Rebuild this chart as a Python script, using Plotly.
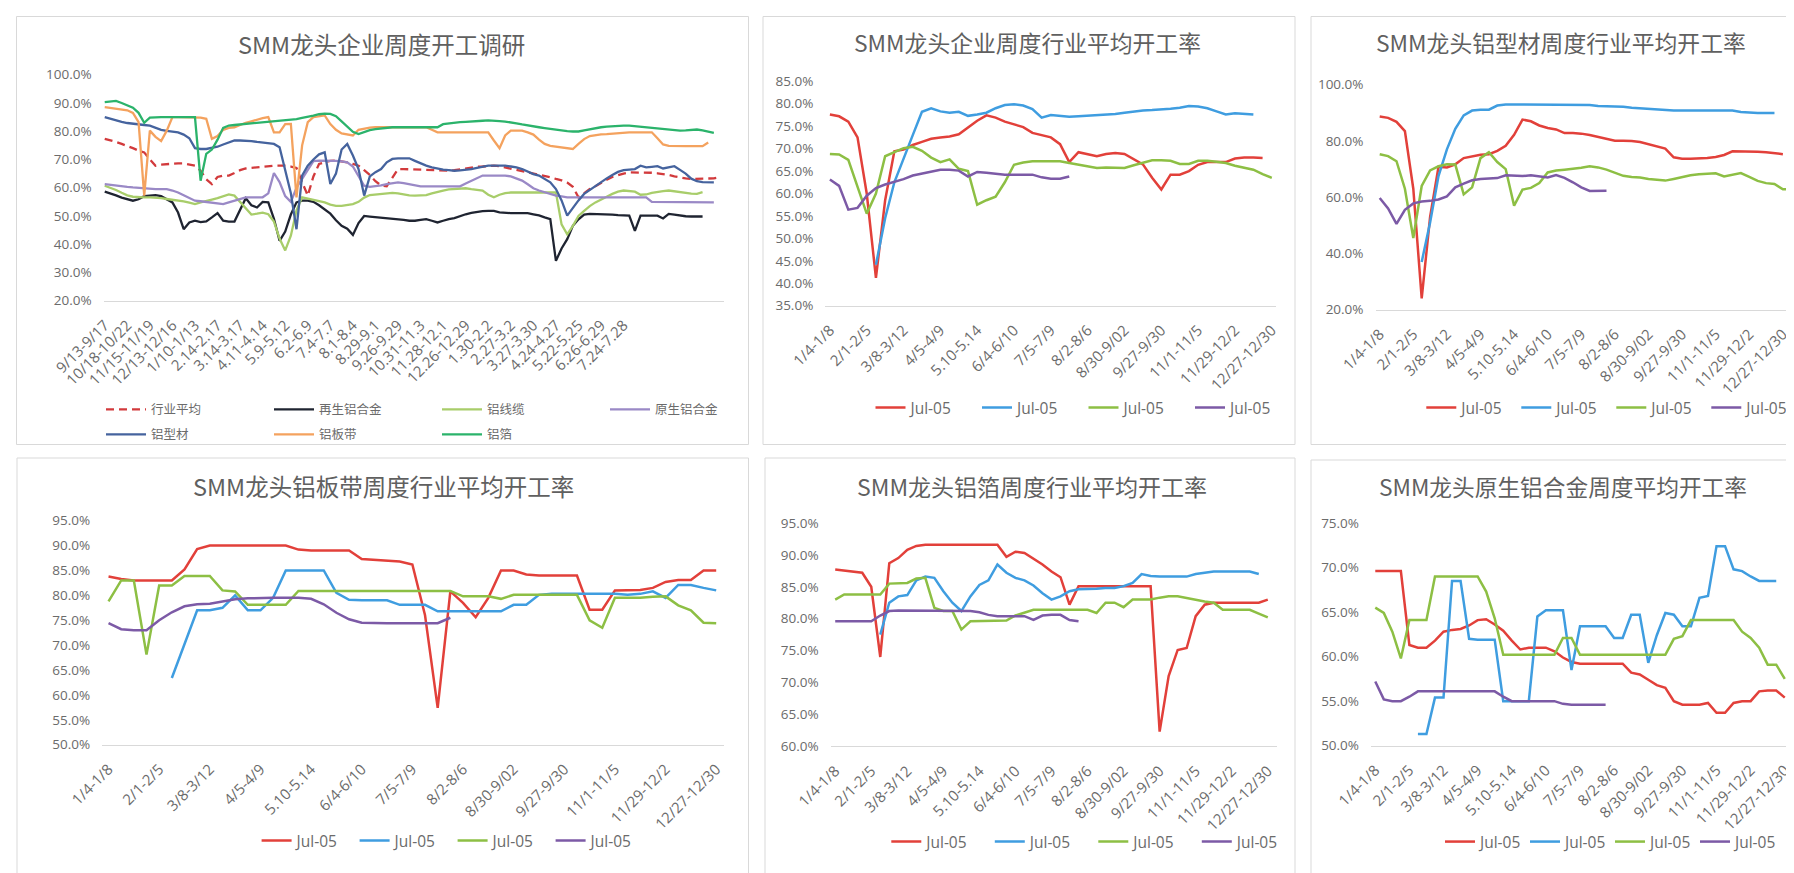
import plotly.graph_objects as go

W, H = 1794, 873
TXT = "#6b6b6b"
FONT = "Open Sans, Noto Sans CJK SC, sans-serif"
CJK = "Noto Sans CJK SC, sans-serif"

# ---------- panel 1 : weekly survey, 7 sectors ----------
week_ticks = ["9/13-9/17", "10/18-10/22", "11/15-11/19", "12/13-12/16", "1/10-1/13",
              "2.14-2.17", "3.14-3.17", "4.11-4.14", "5.9-5.12", "6.2-6.9", "7.4-7.7",
              "8.1-8.4", "8.29-9.1", "9.26-9.29", "10.31-11.3", "11.28-12.1",
              "12.26-12.29", "1.30-2.2", "2.27-3.2", "3.27-3.30", "4.24-4.27",
              "5.22-5.25", "6.26-6.29", "7.24-7.28"]

avg_rate = [77.3, 76.8, 76.2, 75.5, 74.8, 74.0, 73.1, 72.5, 70.0, 67.8,
            68.2, 68.4, 68.5, 68.6, 68.6, 68.2, 67.8, 66.0, 63.0, 61.3,
            63.8, 64.3, 64.3, 65.2, 66.2, 66.8, 67.0, 67.4, 67.6, 67.7,
            67.8, 67.8, 67.8, 67.5, 67.0, 62.0, 57.2, 64.0, 68.4, 69.0,
            69.5, 69.6, 69.4, 69.0, 68.4, 67.8, 66.2, 64.5, 62.3, 60.8,
            60.5, 63.5, 66.6, 66.6, 66.5, 66.5, 66.4, 66.3, 66.1, 66.0,
            66.0, 66.0, 66.2, 66.5, 66.9, 67.2, 67.4, 67.5, 67.7, 67.8,
            67.6, 67.1, 66.7, 66.3, 65.9, 65.5, 65.1, 64.7, 64.3, 63.7,
            63.1, 62.6, 61.8, 60.3, 56.6, 58.2, 59.5, 60.5, 61.8, 62.8,
            63.8, 64.5, 65.0, 65.4, 65.4, 65.4, 65.4, 65.3, 65.1, 64.9,
            64.5, 64.0, 63.6, 63.3, 63.1, 63.1, 63.1, 63.1, 63.3, 63.7]

recycled = [58.6, 58.0, 57.3, 56.5, 55.9, 55.4, 55.9, 57.0, 57.2, 57.4,
            57.0, 56.0, 54.8, 51.2, 45.3, 47.7, 48.3, 47.8, 48.1, 49.5,
            51.0, 48.3, 48.0, 48.0, 52.4, 56.3, 53.8, 53.0, 55.0, 54.8,
            49.0, 41.2, 44.5, 50.5, 54.8, 55.4, 55.4, 55.0, 53.8, 52.4,
            50.8, 48.5, 46.5, 45.5, 43.3, 47.5, 50.0, 49.8, 49.6, 49.5,
            49.3, 49.1, 49.0, 48.6, 48.3, 48.3, 48.6, 48.9, 48.3, 47.7,
            48.3, 48.9, 49.2, 50.0, 50.6, 51.1, 51.5, 51.7, 51.8, 51.8,
            51.3, 51.1, 51.0, 51.0, 51.0, 51.0, 50.6, 50.2, 49.5, 48.9,
            34.1, 38.5, 41.8, 46.5, 48.8, 50.5, 50.7, 50.7, 50.7, 50.7,
            50.5, 50.3, 50.1, 50.1, 44.7, 50.1, 50.1, 50.1, 50.1, 49.1,
            50.7, 50.5, 50.1, 49.9, 49.8, 49.8, 49.8]

cable = [60.7, 60.0, 59.2, 58.2, 57.3, 56.8, 56.6, 56.6, 56.6, 56.5,
         56.3, 56.0, 55.8, 55.5, 55.2, 54.7, 54.2, 54.8, 55.4, 55.8,
         56.3, 56.9, 57.6, 57.2, 55.0, 53.0, 50.5, 50.8, 51.2, 50.6,
         48.0, 42.0, 37.8, 43.0, 52.0, 56.6, 56.2, 55.8, 55.2, 54.8,
         54.0, 53.6, 53.6, 53.8, 54.2, 55.0, 56.5, 57.4, 57.6, 57.8,
         58.0, 58.2, 58.0, 57.6, 57.3, 57.2, 57.3, 57.4, 58.0, 58.6,
         59.0, 59.4, 59.6, 59.8, 59.8, 59.5, 59.2, 59.0, 57.5, 56.6,
         57.5, 58.1, 58.3, 58.3, 58.3, 58.3, 58.3, 58.3, 58.3, 58.3,
         58.3, 47.0, 43.5, 46.5, 50.0, 51.8, 53.5, 54.8, 55.9, 56.8,
         57.8, 58.6, 59.0, 58.8, 58.6, 57.5, 57.6, 58.2, 58.6, 58.8,
         59.0, 58.7, 58.4, 58.1, 57.9, 57.8, 58.4]

primary = [61.3, 61.0, 60.7, 60.5, 60.3, 60.1, 59.9, 59.7, 59.6, 59.5,
           59.5, 59.5, 59.0, 58.3, 57.3, 56.3, 55.4, 55.2, 55.0, 54.8,
           54.5, 54.2, 54.8, 55.4, 56.0, 56.6, 56.6, 56.6, 56.6, 58.0,
           65.2, 62.0, 57.0, 55.0, 60.0, 63.1, 66.5, 69.4, 69.6, 69.6,
           69.6, 69.5, 69.3, 69.0, 67.5, 64.0, 60.7, 60.3, 60.5, 60.8,
           61.3, 61.7, 61.9, 61.6, 61.3, 60.9, 60.5, 60.5, 60.5, 60.5,
           60.5, 60.5, 60.5, 60.5, 61.5, 62.5, 63.5, 64.3, 64.3, 64.3,
           64.3, 64.3, 64.0, 63.3, 62.5, 61.2, 59.8, 59.0, 58.4, 57.8,
           57.2, 56.9, 56.6, 56.6, 56.6, 56.6, 56.6, 56.6, 56.6, 56.6,
           56.6, 56.6, 56.6, 56.6, 56.6, 56.6, 56.6, 55.0, 55.0, 55.0,
           55.0, 55.0, 55.0, 55.0, 55.0, 54.9, 54.9, 54.8, 54.8]

profile = [85.0, 84.4, 83.8, 83.3, 82.9, 82.6, 82.4, 82.2, 82.0, 81.2,
           80.5, 80.1, 79.8, 79.6, 78.8, 77.5, 74.0, 73.7, 73.7, 74.0,
           74.5, 75.3, 76.0, 76.7, 76.7, 76.7, 76.5, 76.2, 76.0, 75.7,
           75.5, 74.3, 66.6, 58.0, 45.3, 64.3, 67.8, 70.0, 71.8, 72.5,
           61.3, 65.0, 73.5, 75.5, 71.4, 66.6, 57.2, 64.0, 65.5, 66.6,
           69.0, 70.2, 70.4, 70.4, 70.4, 69.5, 68.6, 67.8, 67.2, 66.7,
           66.4, 66.2, 66.0, 66.1, 66.3, 66.6, 67.0, 67.4, 67.8, 67.8,
           67.8, 67.8, 67.5, 67.2, 66.6, 65.6, 64.8, 64.3, 63.0, 61.9,
           59.5, 55.5, 50.1, 53.0, 55.5, 57.8, 59.2, 60.7, 62.0, 63.3,
           64.5, 65.6, 66.2, 66.5, 66.6, 67.8, 67.2, 67.4, 67.6, 66.8,
           67.2, 67.6, 66.3, 65.0, 63.2, 62.3, 62.0, 61.9, 61.9]

sheet = [88.5, 88.2, 87.9, 87.6, 87.4, 86.5, 83.2, 57.2, 80.2, 78.0,
         76.5, 80.2, 85.0, 85.0, 85.0, 85.0, 85.0, 84.8, 84.4, 77.3,
         78.3, 80.5, 81.2, 81.4, 82.2, 83.0, 83.5, 84.1, 84.6, 85.0,
         79.6, 79.6, 82.5, 82.6, 56.6, 75.0, 83.2, 85.0, 85.3, 85.6,
         82.5, 80.5, 79.2, 78.8, 78.5, 80.5, 81.0, 81.3, 81.4, 81.4,
         81.4, 81.4, 81.4, 81.4, 81.4, 81.4, 81.4, 81.4, 80.5, 79.6,
         79.6, 79.6, 79.6, 79.6, 79.6, 79.6, 79.6, 79.6, 79.6, 76.7,
         74.0, 78.5, 80.2, 80.2, 80.2, 79.6, 78.8, 77.0, 75.5, 74.8,
         74.5, 74.3, 74.0, 73.7, 75.5, 77.2, 78.3, 78.7, 78.9, 79.0,
         79.2, 79.4, 79.5, 79.6, 79.6, 79.6, 79.6, 79.6, 77.5, 75.3,
         74.8, 74.7, 74.7, 74.7, 74.7, 74.7, 74.7, 76.0]

foil = [90.3, 90.6, 90.7, 90.0, 89.2, 88.3, 86.5, 83.0, 84.8, 85.0,
        85.0, 85.0, 85.0, 85.0, 85.0, 85.0, 85.0, 62.5, 72.0, 73.5,
        77.0, 81.2, 82.0, 82.2, 82.4, 82.5, 82.7, 82.9, 83.1, 83.2,
        83.4, 83.6, 83.8, 84.0, 84.3, 84.7, 85.0, 85.5, 86.0, 86.2,
        86.1, 85.3, 83.5, 81.5, 79.8, 79.0, 79.6, 80.4, 80.7, 81.0,
        81.2, 81.4, 81.4, 81.4, 81.4, 81.4, 81.4, 81.4, 81.4, 81.4,
        82.5, 82.8, 83.0, 83.2, 83.3, 83.5, 83.6, 83.7, 83.8, 83.8,
        83.6, 83.4, 83.2, 82.8, 82.4, 82.0, 81.7, 81.4, 81.1, 80.8,
        80.5, 80.2, 80.0, 79.9, 79.9, 80.3, 80.7, 81.1, 81.4, 81.6,
        81.8, 81.9, 82.0, 82.0, 81.8, 81.6, 81.4, 81.2, 81.0, 80.8,
        80.6, 80.3, 80.2, 80.3, 80.5, 80.6, 80.3, 79.8, 79.4]

# ---------- panels 2-6 : yearly comparison, 4 series each ----------
year_ticks = ["1/4-1/8", "2/1-2/5", "3/8-3/12", "4/5-4/9", "5.10-5.14", "6/4-6/10",
              "7/5-7/9", "8/2-8/6", "8/30-9/02", "9/27-9/30", "11/1-11/5",
              "11/29-12/2", "12/27-12/30"]
series_names = ["Jul-05", "Jul-05", "Jul-05", "Jul-05"]

avg_red = [77.6, 77.2, 76.0, 72.5, 60.0, 41.2, 58.5, 69.4, 69.8, 70.8,
           71.5, 72.2, 72.5, 72.7, 73.2, 74.7, 76.2, 77.4, 76.9, 76.0,
           75.4, 74.8, 73.5, 73.0, 72.5, 71.0, 67.0, 69.2, 68.8, 68.3,
           68.8, 69.0, 68.8, 67.6, 66.5, 63.5, 60.9, 64.2, 64.2, 65.0,
           66.4, 67.0, 67.0, 67.0, 67.8, 68.0, 68.0, 67.9]
avg_blue = [None, None, None, None, None, 44.1, 54.5, 62.5, 67.9, 73.0,
            78.2, 79.0, 78.3, 78.0, 78.2, 77.3, 77.6, 78.0, 79.0, 79.7,
            79.9, 79.6, 78.8, 76.9, 77.5, 77.3, 77.1, 77.2, 77.3, 77.5,
            77.6, 77.7, 78.0, 78.3, 78.5, 78.6, 78.7, 78.9, 79.1, 79.5,
            79.4, 79.0, 78.3, 77.6, 77.9, 77.8, 77.6]
avg_green = [68.8, 68.7, 67.5, 61.5, 55.5, 60.0, 68.3, 69.2, 70.1, 70.4,
             69.5, 68.0, 67.0, 67.6, 65.5, 65.0, 57.5, 58.5, 59.3, 62.5,
             66.4, 66.9, 67.2, 67.2, 67.2, 67.2, 66.8, 66.4, 66.0, 65.7,
             65.8, 65.8, 65.7, 66.3, 66.8, 67.4, 67.4, 67.3, 66.6, 66.6,
             67.3, 67.3, 67.1, 66.8, 66.2, 65.7, 65.3, 64.3, 63.5]
avg_purple = [63.1, 61.7, 56.4, 56.8, 59.5, 61.2, 62.0, 62.6, 63.2, 64.0,
              64.4, 64.9, 65.3, 65.3, 65.1, 63.8, 64.8, 64.6, 64.4, 64.2,
              64.2, 64.2, 64.2, 63.6, 63.3, 63.3, 63.8]

prof_red = [88.7, 88.2, 86.8, 83.5, 63.0, 24.0, 53.0, 70.8, 70.6, 71.7,
            73.9, 74.5, 75.1, 75.3, 76.5, 78.3, 82.2, 87.6, 87.0, 85.5,
            84.6, 84.1, 82.8, 82.8, 82.6, 82.1, 81.4, 80.8, 80.1, 80.1,
            80.0, 79.6, 78.8, 78.0, 77.3, 74.2, 73.7, 73.7, 73.7, 73.9,
            74.3, 75.0, 76.3, 76.3, 76.3, 76.2, 76.0, 75.7, 75.3]
prof_blue = [None, None, None, None, None, 37.0, 51.0, 67.5, 77.0, 84.3,
             89.1, 90.8, 91.1, 91.1, 92.6, 93.0, 93.0, 93.0, 93.0, 93.0,
             93.0, 93.0, 93.0, 93.0, 93.0, 92.8, 92.4, 92.3, 92.3, 92.2,
             91.8, 91.6, 91.4, 91.1, 91.0, 90.8, 90.8, 90.8, 90.8, 90.8,
             90.8, 90.8, 90.8, 90.3, 90.0, 89.9, 89.9, 89.9]
prof_green = [75.3, 74.6, 72.8, 63.0, 45.5, 64.0, 69.5, 71.0, 71.7, 71.6,
              61.0, 63.5, 73.9, 76.0, 72.5, 70.0, 57.0, 62.7, 63.3, 65.0,
              68.8, 69.5, 69.8, 70.1, 70.5, 71.0, 70.6, 69.8, 68.8, 67.6,
              67.2, 67.0, 66.5, 66.2, 65.9, 66.5, 67.2, 67.8, 68.2, 68.4,
              68.5, 67.4, 68.1, 68.6, 67.2, 65.8, 65.0, 64.7, 62.8, 62.9]
prof_purple = [59.7, 56.0, 50.5, 55.5, 57.8, 58.5, 58.7, 59.2, 60.3, 63.5,
               64.8, 66.0, 66.5, 66.7, 66.8, 67.8, 67.6, 67.5, 67.8, 67.5,
               67.0, 67.9, 66.9, 65.3, 63.5, 62.2, 62.3, 62.3]

sheet_red = [83.8, 83.3, 83.0, 83.0, 83.0, 83.0, 85.2, 89.3, 90.0, 90.0,
             90.0, 90.0, 90.0, 90.0, 90.0, 89.2, 89.0, 89.0, 89.0, 89.0,
             87.3, 87.1, 87.0, 86.8, 86.2, 76.0, 57.4, 80.8, 78.5, 75.6,
             79.5, 85.0, 85.0, 84.2, 84.0, 84.0, 84.0, 84.0, 77.1, 77.1,
             81.0, 81.1, 81.1, 81.5, 82.7, 83.1, 83.1, 85.0, 85.0]
sheet_blue = [None, None, None, None, None, 63.4, 70.0, 77.0, 77.0, 77.5,
              80.0, 77.0, 77.0, 79.5, 85.0, 85.0, 85.0, 85.0, 80.5, 79.1,
              79.0, 79.0, 79.0, 78.1, 78.1, 78.1, 76.8, 76.8, 76.8, 76.8,
              76.8, 76.8, 78.1, 78.1, 80.1, 80.3, 80.3, 80.3, 80.3, 80.3,
              80.3, 80.1, 80.3, 80.8, 79.5, 82.1, 82.1, 81.5, 81.0]
sheet_green = [78.8, 83.0, 83.0, 68.1, 82.0, 82.0, 83.9, 83.9, 83.9, 81.0,
               80.8, 78.1, 78.1, 78.1, 78.1, 80.9, 80.9, 80.9, 80.9, 80.9,
               80.9, 80.9, 80.9, 80.9, 80.9, 80.9, 80.9, 80.9, 79.8, 79.8,
               79.8, 79.3, 80.1, 80.1, 80.1, 80.1, 80.1, 80.1, 75.0, 73.5,
               79.5, 79.5, 79.5, 79.7, 79.8, 78.0, 77.0, 74.5, 74.4]
sheet_purple = [74.4, 73.2, 73.0, 73.0, 75.0, 76.6, 77.8, 78.2, 78.3, 78.8,
                79.2, 79.4, 79.5, 79.5, 79.5, 79.5, 79.3, 78.2, 76.5, 75.2,
                74.5, 74.4, 74.4, 74.4, 74.4, 74.4, 74.4, 75.5]

foil_red = [87.7, 87.5, 87.3, 87.2, 85.0, 74.0, 88.7, 89.5, 90.8, 91.4,
            91.6, 91.6, 91.6, 91.6, 91.6, 91.6, 91.6, 91.6, 91.6, 89.7,
            90.5, 90.3, 89.4, 88.5, 87.4, 86.5, 82.2, 85.1, 85.1, 85.1,
            85.1, 85.1, 85.1, 85.1, 85.1, 85.1, 62.3, 71.0, 75.1, 75.4,
            80.4, 82.2, 82.5, 82.5, 82.5, 82.5, 82.5, 82.5, 83.0]
foil_blue = [None, None, None, None, None, 77.5, 82.5, 83.5, 83.7, 86.0,
             86.6, 86.4, 84.3, 82.5, 81.2, 83.5, 85.3, 86.0, 88.5, 87.2,
             86.4, 86.0, 85.2, 84.0, 83.0, 83.5, 84.3, 84.6, 84.6, 84.7,
             84.8, 84.8, 85.1, 85.6, 87.0, 86.7, 86.6, 86.6, 86.6, 86.6,
             87.0, 87.2, 87.4, 87.4, 87.4, 87.4, 87.4, 87.0]
foil_green = [83.0, 83.8, 83.8, 83.8, 83.8, 83.8, 85.5, 85.6, 85.6, 86.3,
              86.4, 81.7, 81.2, 81.2, 78.3, 79.6, 79.6, 79.6, 79.6, 79.7,
              80.5, 81.0, 81.4, 81.4, 81.4, 81.4, 81.4, 81.4, 81.4, 80.9,
              82.5, 82.5, 81.8, 83.0, 83.0, 83.0, 83.3, 83.5, 83.5, 83.2,
              83.0, 82.7, 82.5, 81.4, 81.4, 81.4, 81.4, 80.8, 80.2]
foil_purple = [79.6, 79.6, 79.6, 79.6, 79.6, 80.5, 81.2, 81.3, 81.3, 81.3,
               81.3, 81.2, 81.2, 81.2, 81.2, 81.2, 81.0, 80.6, 80.4, 80.4,
               80.4, 80.4, 79.8, 80.5, 80.6, 80.6, 79.8, 79.6]

alloy_red = [69.6, 69.6, 69.6, 69.6, 61.3, 61.0, 61.0, 61.8, 62.8, 63.0,
             63.1, 63.5, 64.1, 64.2, 63.6, 62.9, 61.8, 60.8, 61.0, 61.0,
             61.0, 60.6, 59.9, 59.4, 59.2, 59.2, 59.2, 59.2, 59.2, 59.2,
             58.2, 58.0, 57.4, 56.8, 56.5, 55.0, 54.6, 54.6, 54.6, 54.8,
             53.7, 53.7, 54.8, 55.0, 55.0, 56.1, 56.2, 56.2, 55.4]
alloy_blue = [None, None, None, None, None, 51.3, 51.3, 55.4, 55.4, 68.5,
              68.5, 62.0, 61.9, 61.9, 61.9, 55.0, 55.0, 55.0, 55.0, 64.5,
              65.2, 65.2, 65.2, 58.5, 63.4, 63.4, 63.4, 63.4, 62.1, 62.1,
              64.7, 64.7, 59.3, 62.4, 64.9, 64.7, 63.4, 63.4, 66.6, 66.8,
              72.4, 72.4, 69.8, 69.6, 69.0, 68.5, 68.5, 68.5]
alloy_green = [65.5, 64.9, 62.8, 59.8, 64.1, 64.1, 64.1, 69.0, 69.0, 69.0,
               69.0, 69.0, 69.0, 67.3, 64.3, 60.2, 60.2, 60.2, 60.2, 60.2,
               60.2, 60.2, 62.1, 62.1, 60.2, 60.2, 60.2, 60.2, 60.2, 60.2,
               60.2, 60.2, 60.2, 60.2, 60.2, 62.0, 62.3, 64.1, 64.1, 64.1,
               64.1, 64.1, 64.1, 62.8, 62.1, 61.0, 59.1, 59.1, 57.5]
alloy_purple = [57.2, 55.2, 55.0, 55.0, 55.5, 56.1, 56.1, 56.1, 56.1, 56.1,
                56.1, 56.1, 56.1, 56.1, 56.1, 55.5, 55.0, 55.0, 55.0, 55.0,
                55.0, 55.0, 54.7, 54.6, 54.6, 54.6, 54.6, 54.6]

YEAR_COLORS = ["#E2403A", "#3F9DE0", "#8DBF44", "#7C5AA6"]


def fx(px):
    return px / W


def fy(px):
    return 1 - px / H


# PANEL SETUP (pixel boxes measured on the 1794x873 canvas)
panels = [
    dict(title="SMM龙头企业周度开工调研", tsize=23.5, tx=373, ty=36,
         box=(8.5, 8.5, 740.5, 436.5), xd=(95.6, 716), yd=(66.7, 292.7),
         xr=[-0.2, 109.8], yr=[20, 100], dt=10, ticks=week_ticks, step=4, xfs=15),
    dict(title="SMM龙头企业周度行业平均开工率", tsize=22.8, tx=1020, ty=35,
         box=(755, 8.5, 1287, 436.5), xd=(817.3, 1268.4), yd=(73.3, 297.7),
         xr=[-0.5, 48.5], yr=[35, 85], dt=5, ticks=year_ticks, step=4, xfs=15),
    dict(title="SMM龙头铝型材周度行业平均开工率", tsize=22.8, tx=1553, ty=35,
         box=(1303, 8.5, 1800, 436.5), xd=(1367.5, 1785.8), yd=(76.7, 301.7),
         xr=[-0.5, 49.3], yr=[20, 100], dt=20, ticks=year_ticks, step=4, xfs=15),
    dict(title="SMM龙头铝板带周度行业平均开工率", tsize=23.5, tx=375, ty=478,
         box=(9, 450, 740.5, 880), xd=(94.2, 715.8), yd=(512.7, 736.7),
         xr=[-0.5, 48.6], yr=[50, 95], dt=5, ticks=year_ticks, step=4, xfs=15),
    dict(title="SMM龙头铝箔周度行业平均开工率", tsize=23, tx=1024, ty=478,
         box=(757, 450, 1287, 880), xd=(822.7, 1268.8), yd=(515, 738.3),
         xr=[-0.5, 49], yr=[60, 95], dt=5, ticks=year_ticks, step=4, xfs=15),
    dict(title="SMM龙头原生铝合金周度平均开工率", tsize=22.7, tx=1555, ty=478,
         box=(1303, 452, 1800, 880), xd=(1363, 1785.3), yd=(515, 737.7),
         xr=[-0.5, 49], yr=[50, 75], dt=5, ticks=year_ticks, step=4, xfs=15),
]

fig = go.Figure()

# PANEL 1 TRACES (two legend rows)
p1_series = [
    ("行业平均", avg_rate, "#D23A3C", "dash", "legend"),
    ("再生铝合金", recycled, "#1F2431", "solid", "legend"),
    ("铝线缆", cable, "#A8CD6A", "solid", "legend"),
    ("原生铝合金", primary, "#9A89C6", "solid", "legend"),
    ("铝型材", profile, "#45639E", "solid", "legend2"),
    ("铝板带", sheet, "#F4A25E", "solid", "legend2"),
    ("铝箔", foil, "#2BB36B", "solid", "legend2"),
]
for name, vals, color, dash, leg in p1_series:
    fig.add_trace(go.Scatter(
        x=list(range(len(vals))), y=vals, name=name, mode="lines",
        line=dict(color=color, width=2.3, dash="8px,5px" if dash == "dash" else "solid"),
        xaxis="x", yaxis="y", legend=leg))

# PANELS 2-6 TRACES
year_sets = [
    [avg_red, avg_blue, avg_green, avg_purple],
    [prof_red, prof_blue, prof_green, prof_purple],
    [sheet_red, sheet_blue, sheet_green, sheet_purple],
    [foil_red, foil_blue, foil_green, foil_purple],
    [alloy_red, alloy_blue, alloy_green, alloy_purple],
]
for k, group in enumerate(year_sets):
    n = k + 2
    for vals, name, color in zip(group, series_names, YEAR_COLORS):
        fig.add_trace(go.Scatter(
            x=list(range(len(vals))), y=vals, name=name, mode="lines",
            line=dict(color=color, width=2.5),
            xaxis="x%d" % n, yaxis="y%d" % n, legend="legend%d" % (n + 1)))

# AXES, TITLES, FRAMES
layout = {}
shapes = []
annotations = []
for i, p in enumerate(panels):
    sfx = "" if i == 0 else str(i + 1)
    layout["xaxis" + sfx] = dict(
        domain=[fx(p["xd"][0]), fx(p["xd"][1])], range=p["xr"], anchor="y" + sfx,
        tickmode="array", tickvals=[j * p["step"] for j in range(len(p["ticks"]))],
        ticktext=p["ticks"], tickangle=-45, showgrid=False, zeroline=False,
        showline=True, linecolor="#D9D9D9", linewidth=1, ticks="",
        ticklabelstandoff=9, tickfont=dict(family=FONT, size=p["xfs"], color=TXT),
        fixedrange=True)
    layout["yaxis" + sfx] = dict(
        domain=[fy(p["yd"][1]), fy(p["yd"][0])], range=p["yr"], anchor="x" + sfx,
        tick0=p["yr"][0], dtick=p["dt"], tickformat=".1f", ticksuffix="%",
        showgrid=False, zeroline=False, showline=False, ticks="",
        ticklabelstandoff=11, tickfont=dict(family=FONT, size=13.5, color=TXT),
        fixedrange=True)
    x0, y0, x1, y1 = p["box"]
    shapes.append(dict(type="rect", xref="paper", yref="paper", layer="below",
                       x0=fx(x0), x1=fx(x1), y0=fy(y1), y1=fy(y0),
                       line=dict(color="#D9D9D9", width=1), fillcolor="rgba(0,0,0,0)"))
    annotations.append(dict(text=p["title"], xref="paper", yref="paper",
                            x=fx(p["tx"]), y=fy(p["ty"]), xanchor="center",
                            yanchor="middle", showarrow=False,
                            font=dict(family=CJK, size=p["tsize"], color="#606060")))

# LEGENDS (one per panel, panel 1 uses two rows)
legend_specs = [
    ("legend", 93, 401.7, 113, 40, 12.5),
    ("legend2", 93, 426.7, 113, 40, 12.5),
    ("legend3", 862.5, 400, 61.5, 30, 15.5),
    ("legend4", 1413.3, 400, 50, 30, 15.5),
    ("legend5", 248.6, 833, 53, 30, 15.5),
    ("legend6", 878.3, 834, 58.5, 30, 15.5),
    ("legend7", 1432, 834, 40, 30, 15.5),
]
for key, lx, ly, ew, iw, fs in legend_specs:
    layout[key] = dict(
        orientation="h", x=fx(lx), y=fy(ly), xanchor="left", yanchor="middle",
        xref="paper", yref="paper", entrywidth=ew, entrywidthmode="pixels",
        itemwidth=iw, bgcolor="rgba(0,0,0,0)", traceorder="normal",
        font=dict(family=FONT, size=fs, color=TXT))

layout.update(dict(
    width=W, height=H, margin=dict(l=0, r=0, t=0, b=0, autoexpand=False),
    paper_bgcolor="white", plot_bgcolor="white",
    shapes=shapes, annotations=annotations, showlegend=True,
    font=dict(family=FONT, color=TXT),
))
fig.update_layout(layout)

fig.write_html("out.html")
